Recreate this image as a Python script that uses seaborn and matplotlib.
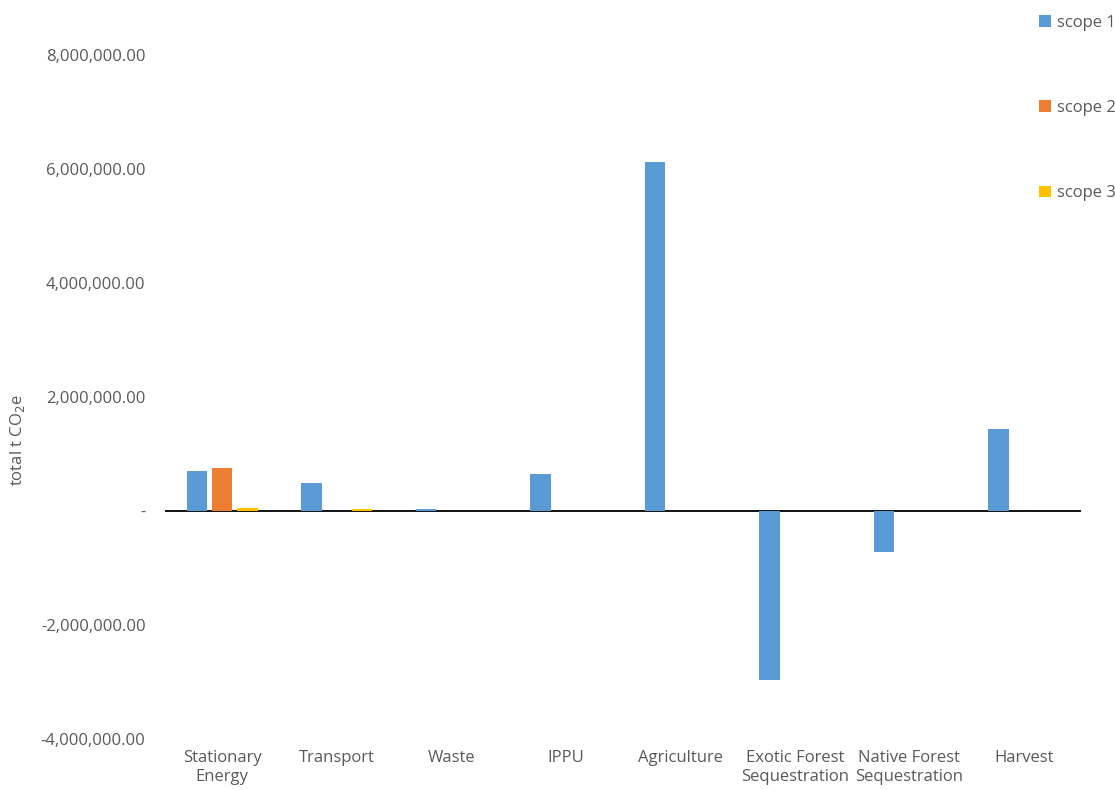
import numpy as np
import pandas as pd
import seaborn as sns
import matplotlib.pyplot as plt
from matplotlib.ticker import FuncFormatter

categories = ["Stationary\nEnergy", "Transport", "Waste", "IPPU", "Agriculture",
              "Exotic Forest\nSequestration", "Native Forest\nSequestration", "Harvest"]
scope1 = [700000, 490000, 40000, 650000, 6120000, -2960000, -720000, 1440000]
scope2 = [750000, 0, 0, 0, 0, 0, 0, 0]
scope3 = [60000, 40000, 0, 0, 0, 0, 0, 0]
scopes = ["scope 1", "scope 2", "scope 3"]
colors = ["#5B9BD5", "#ED7D31", "#FFC000"]

df = pd.DataFrame({"category": categories * 3,
                   "scope": np.repeat(scopes, len(categories)),
                   "value": scope1 + scope2 + scope3})

sns.set_style("white")
plt.rcParams['font.family'] = ['Open Sans', 'DejaVu Sans']
grey = "#595959"

fig = plt.figure(figsize=(11.15, 7.9), dpi=100)
ax = fig.add_axes([165/1115, 1 - 739/790, (1081 - 165)/1115, (739 - 55)/790])

sns.barplot(data=df, x="category", y="value", hue="scope", order=categories,
            hue_order=scopes, palette=colors, width=0.66, gap=0.2,
            saturation=1, errorbar=None, ax=ax, legend=True, zorder=2,
            linewidth=0, edgecolor="none")

ax.set_ylim(-4000000, 8000000)
ax.set_xlim(-0.5, 7.5)
ax.set_yticks(np.arange(-4000000, 8000001, 2000000))
ax.yaxis.set_major_formatter(FuncFormatter(lambda v, p: "-" if v == 0 else f"{v:,.2f}"))
ax.axhline(0, color="black", lw=1.3, zorder=1)
for s in ax.spines.values():
    s.set_visible(False)
ax.tick_params(axis="both", length=0, colors=grey, labelsize=12)
ax.tick_params(axis="y", pad=14)
ax.tick_params(axis="x", pad=8)
ax.set_xlabel("")
ax.set_ylabel("")
fig.text(18/1115, 1 - 440/790, "total t CO$_2$e", color=grey, fontsize=12,
         rotation=90, ha="center", va="center")

handles, labels = ax.get_legend_handles_labels()
ax.legend(handles, labels, loc="upper left", bbox_to_anchor=(1024/1115, 1.0),
          bbox_transform=fig.transFigure, frameon=False, fontsize=12,
          labelspacing=4.15, handlelength=0.7, handleheight=0.7, handletextpad=0.4,
          labelcolor=grey)

fig.savefig("out.png", dpi=100)
